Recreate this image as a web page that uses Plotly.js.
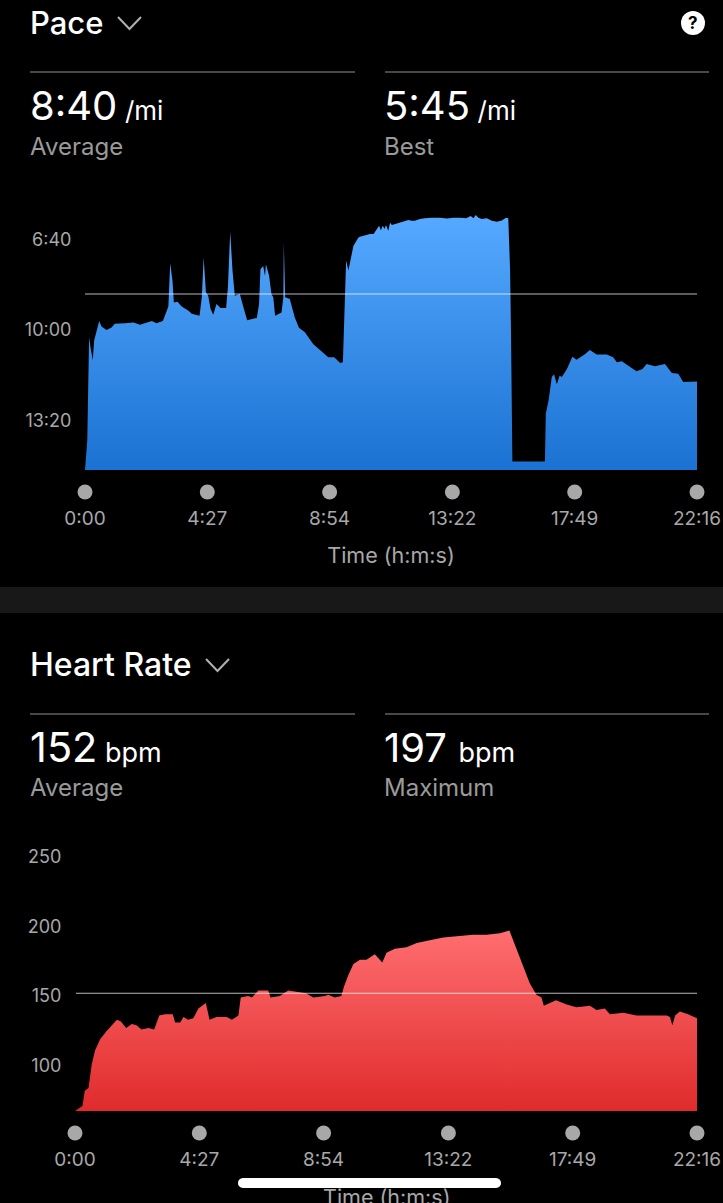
<!DOCTYPE html>
<html><head><meta charset="utf-8">
<script src="https://cdn.plot.ly/plotly-3.0.1.min.js"></script>
<style>html,body{margin:0;padding:0;background:#000;overflow:hidden}#c{width:723px;height:1203px}</style>
</head><body><div id="c"></div>
<script>
const tickSeconds=[0,267,534,802,1069,1336];
const tickLabels=['0:00','4:27','8:54','13:22','17:49','22:16'];
const paceTickValues=[400,600,800];
const paceTickLabels=['6:40','10:00','13:20'];
const hrTickValues=[100,150,200,250];
const paceAverage=520, hrAverage=152;
const paceBase=910, hrBase=67.5;
const paceT=[0,2,5,7,9,12,17,20,25,31,36,47,58,65,87,106,120,146,156,170,176,182,186,191,194,202,211,220,226,233,244,250,255,259,264,269,274,280,287,296,308,312,317,322,327,338,346,354,375,380,383,389,393,395,402,407,411,415,429,433,434,437,447,458,467,480,498,517,531,544,557,563,567,570,575,586,597,600,608,622,630,638,642,646,650,654,657,662,666,670,677,691,706,713,720,731,742,757,775,790,804,819,832,842,848,853,859,866,877,888,899,910,919,924,928,930,933,1004,1006,1012,1019,1024,1030,1036,1041,1052,1064,1073,1092,1102,1117,1139,1153,1161,1172,1190,1204,1217,1226,1244,1266,1281,1295,1306,1321,1336];
const paceV=[910,881,844,726,616,638,667,623,601,580,592,600,594,586,585,583,588,580,585,580,564,548,452,491,539,537,548,553,557,564,566,568,527,439,516,524,553,566,542,551,551,505,382,468,524,520,550,578,573,542,465,458,480,454,480,520,527,568,561,527,406,527,531,572,595,605,631,649,660,660,673,671,505,446,468,413,395,393,391,387,387,376,369,379,369,376,367,380,362,367,365,362,356,358,358,354,352,351,351,353,351,351,352,347,352,345,351,354,352,358,360,357,351,352,468,608,891,891,785,756,704,698,720,701,704,686,659,666,653,644,654,654,660,671,669,682,691,686,675,680,675,695,697,715,715,714];
const hrT=[0,7,16,21,29,36,43,54,68,90,98,110,122,132,143,158,170,181,193,210,215,226,233,243,254,265,281,289,304,326,337,351,356,372,380,394,415,420,440,458,476,496,512,537,544,558,572,578,587,598,612,626,644,653,660,669,687,712,734,762,791,820,855,884,913,933,941,956,966,977,991,1002,1007,1020,1033,1056,1077,1106,1120,1138,1149,1178,1206,1249,1271,1278,1283,1289,1299,1317,1336];
const hrV=[67.5,69,71,82,84,101,111,119,125,133,132,127,130,129,126,127,126,136,137,137,131,131,135,133,134,141,145,133,135,135,133,136,149,150,149,154,154,149,150,154,153,152,149,150,151,149,150,157,165,173,176,176,180,177,174,181,184,185,188,190,192,193,194,194,195,197,190,176,168,159,151,149,143,145,147,144,142,143,140,141,137,138,136,136,136,135,129,136,139,137,134];

const W=723,H=1203;
const fx=p=>p/W, fy=p=>1-p/H;
const grey='#a8a8a8';
const font='Inter, Roboto, sans-serif';
const timeTitle='Time (h:m:s)';

function xax(l,anchor){return {domain:[fx(l),fx(697)],range:[0,1336],anchor,tickmode:'array',tickvals:tickSeconds,ticktext:tickLabels,
 ticks:'outside',ticklen:31,tickcolor:'rgba(0,0,0,0)',tickfont:{family:font,size:19,color:grey},showgrid:false,zeroline:false,showline:false};}
function strip(l,top,bottom,anchor){return [
 {domain:[fx(l),fx(697)],range:[0,1336],anchor,visible:false},
 {domain:[fy(bottom),fy(top)],range:[-1,1],anchor:anchor==='y3'?'x3':'x4',visible:false}];}
const [x3,y3]=strip(85,480,504,'y3');
const [x4,y4]=strip(75,1121,1145,'y4');

const avgLine={width:1.2,color:'rgba(255,255,255,0.72)'};
const traces=[
 {x:[0,1336],y:[paceBase,paceBase],xaxis:'x',yaxis:'y',mode:'lines',line:{width:0},hoverinfo:'skip'},
 {x:paceT,y:paceV,xaxis:'x',yaxis:'y',mode:'lines',line:{width:0},fill:'tonexty',
  fillgradient:{type:'vertical',colorscale:[[0,'#1b72d2'],[1,'#56a9ff']]},hoverinfo:'skip'},
 {x:[0,1336],y:[paceAverage,paceAverage],xaxis:'x',yaxis:'y',mode:'lines',line:avgLine,hoverinfo:'skip'},
 {x:tickSeconds,y:tickSeconds.map(()=>0),xaxis:'x3',yaxis:'y3',mode:'markers',cliponaxis:false,marker:{size:15,color:'#a8a8a8'},hoverinfo:'skip'},
 {x:[0,1336],y:[hrBase,hrBase],xaxis:'x2',yaxis:'y2',mode:'lines',line:{width:0},hoverinfo:'skip'},
 {x:hrT,y:hrV,xaxis:'x2',yaxis:'y2',mode:'lines',line:{width:0},fill:'tonexty',
  fillgradient:{type:'vertical',colorscale:[[0,'#e02b2c'],[1,'#ff6e70']]},hoverinfo:'skip'},
 {x:[2,1336],y:[hrAverage,hrAverage],xaxis:'x2',yaxis:'y2',mode:'lines',line:avgLine,hoverinfo:'skip'},
 {x:tickSeconds,y:tickSeconds.map(()=>0),xaxis:'x4',yaxis:'y4',mode:'markers',cliponaxis:false,marker:{size:15,color:'#a8a8a8'},hoverinfo:'skip'}
];

function txt(x,y,text,size,color,extra){return Object.assign({xref:'paper',yref:'paper',x:fx(x),y:fy(y),text,showarrow:false,xanchor:'left',yanchor:'middle',
 font:{family:font,size,color},borderpad:0,align:'left'},extra||{});}
function head(x,y,text,size){return txt(x,y,text,size,'#fff',{font:{family:font,size,color:'#fff',weight:500}});}
function hline(x0,x1,y){return {type:'line',xref:'paper',yref:'paper',x0:fx(x0),x1:fx(x1),y0:fy(y),y1:fy(y),line:{color:'#484848',width:2}};}
function chevron(x,y){const p=(a,b)=>fx(a)+','+fy(b);return {type:'path',xref:'paper',yref:'paper',path:'M'+p(x,y)+'L'+p(x+11.5,y+12)+'L'+p(x+23,y),line:{color:'#b0b0b0',width:2}};}
function pill(x0,x1,y0,y1){const r=(y1-y0)/2;const n=[];for(let i=0;i<=12;i++){const a=Math.PI/2+i/12*Math.PI;n.push([x0+r+r*Math.cos(a),(y0+y1)/2-r*Math.sin(a)]);}
 for(let i=0;i<=12;i++){const a=-Math.PI/2+i/12*Math.PI;n.push([x1-r+r*Math.cos(a),(y0+y1)/2-r*Math.sin(a)]);}
 return {type:'path',xref:'paper',yref:'paper',path:'M'+n.map(q=>fx(q[0])+','+fy(q[1])).join('L')+'Z',fillcolor:'#fff',line:{width:0}};}
const unit=(s,size,gap)=>'<span style="font-size:'+gap+'px"> </span><span style="font-size:'+size+'px">'+s+'</span>';

const layout={width:W,height:H,margin:{l:0,r:0,t:0,b:0},paper_bgcolor:'#000',plot_bgcolor:'#000',showlegend:false,hovermode:false,
 xaxis:Object.assign(xax(85,'y'),{title:{text:timeTitle,font:{family:font,size:21.5,color:grey},standoff:19}}),
 yaxis:{domain:[fy(470),fy(201)],range:[paceBase,314],anchor:'x',tickmode:'array',tickvals:paceTickValues,ticktext:paceTickLabels,ticks:'outside',ticklen:9,tickcolor:'rgba(0,0,0,0)',
  tickfont:{family:font,size:18,color:grey},showgrid:false,zeroline:false,showline:false},
 xaxis2:xax(75,'y2'),
 yaxis2:{domain:[fy(1111),fy(840)],range:[hrBase,262],anchor:'x2',tickmode:'array',tickvals:hrTickValues,ticks:'outside',ticklen:9,tickcolor:'rgba(0,0,0,0)',
  tickfont:{family:font,size:18,color:grey},showgrid:false,zeroline:false,showline:false},
 xaxis3:x3,yaxis3:y3,xaxis4:x4,yaxis4:y4,
 shapes:[
  hline(30,355,72),hline(385,709,72),hline(30,355,714),hline(385,709,714),
  chevron(118,17),chevron(206,659),
  {type:'rect',xref:'paper',yref:'paper',x0:0,x1:1,y0:fy(613),y1:fy(587),fillcolor:'#181818',line:{width:0}},
  {type:'circle',xref:'paper',yref:'paper',x0:fx(681),x1:fx(705),y0:fy(35),y1:fy(11),fillcolor:'#fff',line:{width:0}},
  pill(238,501,1178,1188)
 ],
 annotations:[
  head(29,22,'Pace',31),
  txt(29,105,'8:40'+unit('/mi',26,27),40,'#fff'),
  txt(383,105,'5:45'+unit('/mi',26,27),40,'#fff'),
  txt(29,146,'Average',24,'#9a9a9a'),
  txt(383,146,'Best',24,'#9a9a9a'),
  txt(693,23,'<b>?</b>',17,'#000',{xanchor:'center'}),
  head(29,664,'Heart Rate',32),
  txt(29,747,'152'+unit('bpm',27,27),41.5,'#fff'),
  txt(383,747,'197'+unit('bpm',27,41),40,'#fff'),
  txt(29,787,'Average',24,'#9a9a9a'),
  txt(383,787,'Maximum',24,'#9a9a9a'),
  txt(386,1197,timeTitle,21.5,grey,{xanchor:'center'})
 ]
};
Plotly.newPlot('c',traces,layout,{displayModeBar:false,staticPlot:true});
</script></body></html>
